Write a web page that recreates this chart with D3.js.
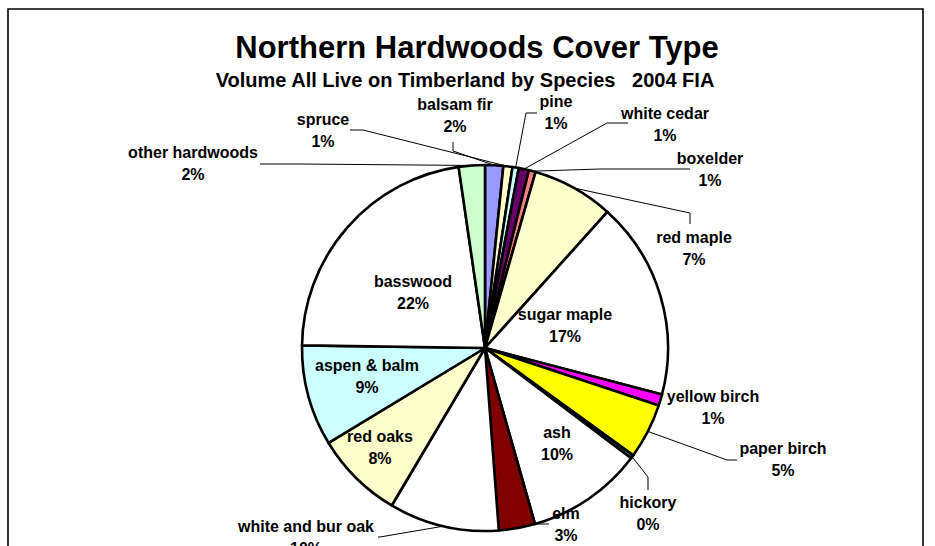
<!DOCTYPE html>
<html>
<head>
<meta charset="utf-8">
<script src="https://cdn.jsdelivr.net/npm/d3@7"></script>
<style>
  html, body { margin: 0; padding: 0; background: #fff; }
  svg { display: block; }
  text { font-family: "Liberation Sans", Arial, sans-serif; font-weight: bold; fill: #000; }
</style>
</head>
<body>
<svg id="chart" width="935" height="546"></svg>
<script>
// ---- data (clockwise from 12 o'clock) ----
const species = ["balsam fir", "spruce", "pine", "white cedar", "boxelder", "red maple",
  "sugar maple", "yellow birch", "paper birch", "hickory", "ash", "elm",
  "white and bur oak", "red oaks", "aspen & balm", "basswood", "other hardwoods"];
const volumeShare = [1.6, 0.8, 0.55, 0.9, 0.6, 7.2,
  17.4, 1.0, 4.9, 0.3, 10.3, 3.2,
  9.7, 7.8, 8.9, 22.45, 2.3];
const sliceColors = ["#9999FF", "#FFFFCC", "#CCFFFF", "#660066", "#FF8080", "#FFFFCC",
  "#FFFFFF", "#FF00FF", "#FFFF00", "#008080", "#FFFFFF", "#800000",
  "#FFFFFF", "#FFFFCC", "#CCFFFF", "#FFFFFF", "#CCFFCC"];
const title = "Northern Hardwoods Cover Type";
const subtitle = "Volume All Live on Timberland by Species   2004 FIA";

// ---- layout (label placement, leader anchors) ----
const labelPos = {
  "balsam fir": {x: 455, y: 104, lead: [[453, 142], [453, 151]]},
  "spruce": {x: 323, y: 119, lead: [[350, 130], [363, 130]]},
  "pine": {x: 556, y: 101, lead: [[537, 113], [526, 113]]},
  "white cedar": {x: 665, y: 113, lead: [[628, 123], [607, 123]]},
  "boxelder": {x: 710, y: 158, lead: [[690, 169], [600, 169]]},
  "red maple": {x: 694, y: 237, lead: [[690, 224], [690, 213]]},
  "sugar maple": {x: 565, y: 314},
  "yellow birch": {x: 713, y: 396},
  "paper birch": {x: 783, y: 448, lead: [[737, 460], [727, 460]]},
  "hickory": {x: 648, y: 502, lead: [[648, 490], [648, 477]]},
  "ash": {x: 557, y: 432},
  "elm": {x: 566, y: 513, lead: [[549, 524], [533, 524]]},
  "white and bur oak": {x: 306, y: 526, lead: [[378, 537], [380, 537]]},
  "red oaks": {x: 380, y: 436},
  "aspen & balm": {x: 367, y: 365},
  "basswood": {x: 413, y: 281},
  "other hardwoods": {x: 193, y: 152, lead: [[260, 164], [300, 164]]}
};

const svg = d3.select("#chart");
const cx = 485, cy = 348, R = 183;

// border
svg.append("path")
  .attr("d", "M8,546 L8,9 L923,9 L923,546")
  .attr("fill", "none").attr("stroke", "#000").attr("stroke-width", 1.6);

svg.append("text").attr("x", 477).attr("y", 58).attr("text-anchor", "middle")
  .style("font-size", "31px").text(title);
svg.append("text").attr("x", 465).attr("y", 87).attr("text-anchor", "middle")
  .style("font-size", "20px").style("white-space", "pre").text(subtitle);

const data = species.map((s, i) => ({name: s, value: volumeShare[i], color: sliceColors[i]}));
const total = d3.sum(volumeShare);
const pie = d3.pie().value(d => d.value).sort(null);
const arcs = pie(data);
const arc = d3.arc().innerRadius(0).outerRadius(R);

const g = svg.append("g").attr("transform", `translate(${cx},${cy})`);
g.selectAll("path.slice").data(arcs).join("path")
  .attr("class", "slice")
  .attr("d", arc)
  .attr("fill", d => d.data.color)
  .attr("stroke", "#000").attr("stroke-width", 2.6).attr("stroke-linejoin", "round");

// leader lines
const line = d3.line();
arcs.forEach(a => {
  const p = labelPos[a.data.name];
  if (!p || !p.lead) return;
  const mid = (a.startAngle + a.endAngle) / 2;
  const end = [cx + R * Math.sin(mid), cy - R * Math.cos(mid)];
  svg.append("path").attr("d", line([...p.lead, end]))
    .attr("fill", "none").attr("stroke", "#000").attr("stroke-width", 1);
});

// labels
arcs.forEach(a => {
  const p = labelPos[a.data.name];
  const t = svg.append("text").attr("text-anchor", "middle").style("font-size", "16px");
  t.append("tspan").attr("x", p.x).attr("y", p.y + 6).text(a.data.name);
  t.append("tspan").attr("x", p.x).attr("y", p.y + 28)
    .text(Math.round(a.data.value / total * 100) + "%");
});
</script>
</body>
</html>
